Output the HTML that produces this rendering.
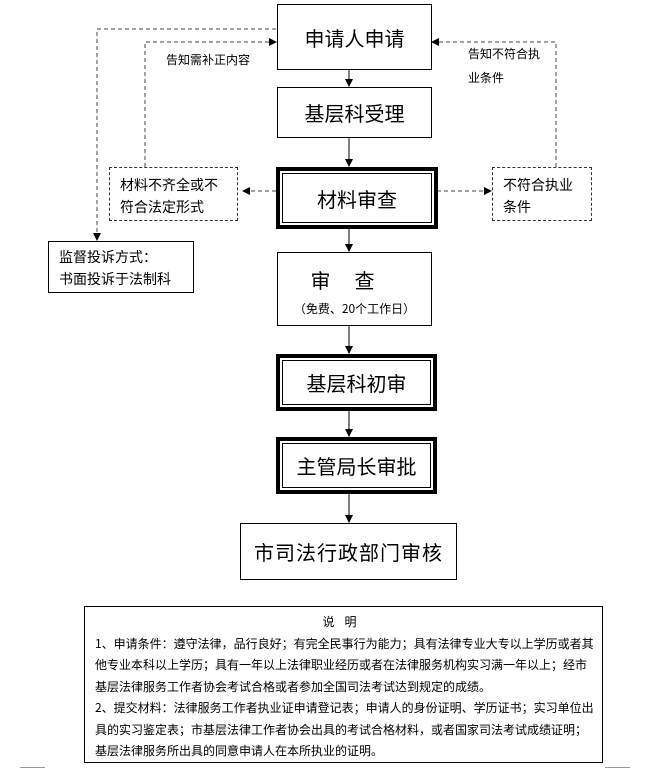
<!DOCTYPE html>
<html><head><meta charset="utf-8"><style>
body{margin:0;width:649px;height:769px;background:#fff;position:relative;font-family:"Liberation Serif","SimSun","Noto Serif CJK SC",serif;overflow:hidden}
.b{position:absolute;border:1px solid #000;box-sizing:border-box;display:flex;align-items:center;justify-content:center;color:#000}
.d{position:absolute;border:1px dashed #333;box-sizing:border-box;font-size:14px;line-height:22px;padding:6px 0 0 10px;font-family:"Noto Sans CJK SC",sans-serif}
.t{border:4px solid #000}
.t>div{position:absolute;inset:2px;border:1px solid #000;display:flex;align-items:center;justify-content:center}
.lab{position:absolute;font-size:12px;font-family:"Noto Sans CJK SC",sans-serif;line-height:20px;white-space:nowrap}
.big{font-size:20px;font-family:"Noto Sans CJK SC",sans-serif}
</style></head><body>
<svg width="649" height="769" style="position:absolute;left:0;top:0">
<defs><marker id="a" markerWidth="8" markerHeight="8" refX="7" refY="4" orient="auto" markerUnits="userSpaceOnUse"><path d="M0,0L8,4L0,8z" fill="#000"/></marker></defs>
<g stroke="#555" stroke-width="1.5" fill="none">
<line x1="349" y1="69" x2="349" y2="86" marker-end="url(#a)"/>
<line x1="349" y1="137" x2="349" y2="166" marker-end="url(#a)"/>
<line x1="349" y1="228" x2="349" y2="251" marker-end="url(#a)"/>
<line x1="349" y1="325" x2="349" y2="353" marker-end="url(#a)"/>
<line x1="349" y1="410" x2="349" y2="436" marker-end="url(#a)"/>
<line x1="349" y1="493" x2="349" y2="522" marker-end="url(#a)"/>
</g>
<g stroke="#444" stroke-width="1" stroke-dasharray="4,3" fill="none">
<polyline points="276,29 97,29 97,240" marker-end="url(#a)"/>
<polyline points="145,167 145,42 276,42" marker-end="url(#a)"/>
<polyline points="556,167 556,42 432,42" marker-end="url(#a)"/>
<line x1="276" y1="191" x2="243" y2="191" marker-end="url(#a)"/>
<line x1="437" y1="191" x2="491" y2="191" marker-end="url(#a)"/>
</g>
</svg>
<div class="b big" style="left:277px;top:4px;width:155px;height:66px">申请人申请</div>
<div class="b big" style="left:277px;top:87px;width:155px;height:51px">基层科受理</div>
<div class="b t big" style="left:276px;top:167px;width:162px;height:62px"><div>材料审查</div></div>
<div class="b big" style="left:277px;top:252px;width:155px;height:74px;flex-direction:column"><div style="letter-spacing:24px;margin-top:4px">审查</div><div style="font-size:12px;margin-top:6px">（免费、20个工作日）</div></div>
<div class="b t big" style="left:276px;top:354px;width:161px;height:57px"><div>基层科初审</div></div>
<div class="b t big" style="left:276px;top:437px;width:161px;height:57px"><div>主管局长审批</div></div>
<div class="b big" style="left:240px;top:523px;width:217px;height:57px;letter-spacing:1px">市司法行政部门审核</div>
<div class="d" style="left:109px;top:167px;width:129px;height:54px">材料不齐全或不<br>符合法定形式</div>
<div class="d" style="left:492px;top:167px;width:100px;height:54px">不符合执业<br>条件</div>
<div class="b" style="left:48px;top:241px;width:146px;height:52px;display:block;font-size:14px;line-height:22px;padding:4px 0 0 10px;font-family:'Noto Sans CJK SC',sans-serif">监督投诉方式：<br>书面投诉于法制科</div>
<div class="lab" style="left:166px;top:50px">告知需补正内容</div>
<div class="lab" style="left:468px;top:42px;line-height:24px">告知不符合执<br>业条件</div>
<div class="b" style="left:84px;top:606px;width:519px;height:157px;display:block;font-size:12px;line-height:21.5px;padding:4px 8px 0 10px;font-family:'Noto Sans CJK SC',sans-serif">
<div style="text-align:center;letter-spacing:10px">说明</div>
1、申请条件：遵守法律，品行良好；有完全民事行为能力；具有法律专业大专以上学历或者其他专业本科以上学历；具有一年以上法律职业经历或者在法律服务机构实习满一年以上；经市基层法律服务工作者协会考试合格或者参加全国司法考试达到规定的成绩。<br>
2、提交材料：法律服务工作者执业证申请登记表；申请人的身份证明、学历证书；实习单位出具的实习鉴定表；市基层法律工作者协会出具的考试合格材料，或者国家司法考试成绩证明；基层法律服务所出具的同意申请人在本所执业的证明。
</div>
<div style="position:absolute;left:20px;top:767px;width:25px;border-top:1px solid #999"></div>
<div style="position:absolute;left:605px;top:767px;width:25px;border-top:1px solid #999"></div>
</body></html>
